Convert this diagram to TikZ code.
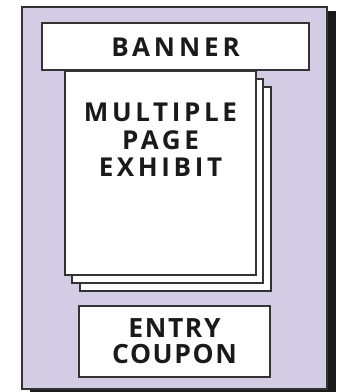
\documentclass[tikz,border=0pt]{standalone}
\usepackage{fontspec}
\setmainfont{Open Sans}
\newfontfamily\wideB[LetterSpace=15]{Open Sans}
\newfontfamily\midB[LetterSpace=14]{Open Sans}
\newfontfamily\tightB[LetterSpace=6]{Open Sans}
\definecolor{lav}{HTML}{D4CCE4}
\definecolor{edgec}{HTML}{333333}
\definecolor{darkc}{HTML}{1A1A1A}
\tikzset{
  panel/.style={draw=edgec, line width=1.3pt, fill=white},
  lbl/.style={text=darkc, align=center, inner sep=0pt}
}
\begin{document}
\begin{tikzpicture}[x=1pt,y=-1pt]
\useasboundingbox (0,0) rectangle (339,392);
% shadow
\fill[darkc] (30,11) rectangle (336,395);
% outer sheet
\draw[draw=edgec, line width=1.3pt, fill=lav] (22,7) rectangle (327,389);
% banner
\draw[panel] (42,23) rectangle (309,70);
\node[lbl, font=\wideB\bfseries\fontsize{26}{27}\selectfont] (banner) at (175.5,47) {BANNER};
% pages
\draw[panel] (80,87) rectangle (271,291);
\draw[panel] (72,79) rectangle (263,283);
\draw[panel] (65,71) rectangle (256,275);
\node[lbl, font=\midB\bfseries\fontsize{26}{27.3}\selectfont, anchor=north] (exhibit) at (160.5,103) {MULTIPLE\\PAGE\\EXHIBIT};
% coupon
\draw[panel] (79,306) rectangle (270,377);
\node[lbl, font=\tightB\bfseries\fontsize{26.5}{26}\selectfont] (coupon) at (174.5,341.5) {ENTRY\\COUPON};
\end{tikzpicture}
\end{document}
